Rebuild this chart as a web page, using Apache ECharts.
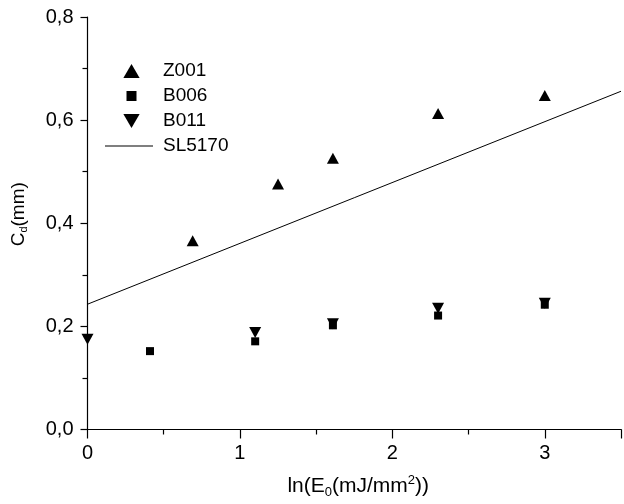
<!DOCTYPE html>
<html>
<head>
<meta charset="utf-8">
<script src="https://cdn.jsdelivr.net/npm/echarts@6/dist/echarts.min.js"></script>
<style>html,body{margin:0;padding:0;background:#fff}#c{width:624px;height:504px}</style>
</head>
<body>
<div id="c"></div>
<script>
var seriesNames = ['Z001', 'B006', 'B011', 'SL5170'];
var z001X = [0.69, 1.25, 1.61, 2.30, 3.00];
var z001Y = [0.366, 0.476, 0.526, 0.613, 0.648];
var b006X = [0.41, 1.10, 1.61, 2.30, 3.00];
var b006Y = [0.152, 0.171, 0.202, 0.221, 0.242];
var b011X = [0.00, 1.10, 1.61, 2.30, 3.00];
var b011Y = [0.175, 0.188, 0.205, 0.235, 0.245];
var slX = [0.0, 3.5];
var slY = [0.243, 0.656];
var xTicks = [0, 1, 2, 3];
var yTicks = [0.0, 0.2, 0.4, 0.6, 0.8];

function pairs(xs, ys) { return xs.map(function (x, i) { return [x, ys[i]]; }); }

var FONT = 'Liberation Sans, Arial, sans-serif';
var ICON_UP = 'path://M5,0L10,8.6L0,8.6Z';
var ICON_DOWN = 'path://M0,0L10,0L5,8.6Z';
var ICON_SQ = 'path://M2,2L12,2L12,12L2,12Z M0,0L0,0 M14,14L14,14';
var ICON_LINE = 'path://M0,0L48,0L48,0.9L0,0.9Z M53,0L53,0';

var chart = echarts.init(document.getElementById('c'), null, { renderer: 'canvas' });
chart.setOption({
  animation: false,
  backgroundColor: '#fff',
  textStyle: { fontFamily: FONT, color: '#000' },
  grid: { left: 87, top: 17, width: 541, height: 413, containLabel: false },
  legend: {
    orient: 'vertical', left: 100, top: 56,
    itemWidth: 53, itemHeight: 14, itemGap: 5,
    symbolKeepAspect: true,
    textStyle: { fontSize: 19, color: '#000', fontFamily: FONT, lineHeight: 20 },
    data: [
      { name: seriesNames[0], icon: ICON_UP },
      { name: seriesNames[1], icon: ICON_SQ },
      { name: seriesNames[2], icon: ICON_DOWN },
      { name: seriesNames[3], icon: ICON_LINE }
    ]
  },
  xAxis: [{
    type: 'value', min: 0, max: 3.5, interval: 1,
    position: 'bottom',
    name: '{a|ln(E}{s|0}{a|(mJ/mm}{p|2}{a|))}',
    nameLocation: 'middle', nameGap: 44,
    nameTextStyle: {
      padding: [0, 0, 0, 8],
      rich: {
        a: { fontSize: 21, fontFamily: FONT, color: '#000', lineHeight: 26 },
        s: { fontSize: 13, fontFamily: FONT, color: '#000', lineHeight: 26, padding: [12, 0, 0, 0] },
        p: { fontSize: 13, fontFamily: FONT, color: '#000', lineHeight: 26, padding: [0, 0, 12, 0] }
      }
    },
    axisLine: { show: true, onZero: false, lineStyle: { color: '#000', width: 1.2 } },
    axisTick: { show: true, inside: false, length: 9, lineStyle: { color: '#000', width: 1.2 } },
    minorTick: { show: true, splitNumber: 2, length: 5, lineStyle: { color: '#000', width: 1.2 } },
    axisLabel: {
      fontSize: 20, color: '#000', margin: 14, fontFamily: FONT,
      formatter: function (v) { return xTicks.indexOf(v) >= 0 ? String(v) : ''; }
    },
    splitLine: { show: false }
  }, {
    type: 'value', min: 0, max: 3.5, position: 'top',
    axisLine: { show: true, lineStyle: { color: '#000', width: 1.2 } },
    axisTick: { show: false }, axisLabel: { show: false }, splitLine: { show: false }
  }],
  yAxis: [{
    type: 'value', min: 0, max: 0.8, interval: 0.2,
    name: '{w| }{a|C}{s|d}{a|(mm)}',
    nameLocation: 'middle', nameGap: 58, nameRotate: 90,
    nameTextStyle: {
      rich: {
        w: { width: 18, fontSize: 19 },
        a: { fontSize: 19, fontFamily: FONT, color: '#000', lineHeight: 22 },
        s: { fontSize: 11, fontFamily: FONT, color: '#000', lineHeight: 22, padding: [10, 0, 0, 0] }
      }
    },
    axisLine: { show: true, onZero: false, lineStyle: { color: '#000', width: 1.2 } },
    axisTick: { show: true, inside: false, length: 7, lineStyle: { color: '#000', width: 1.2 } },
    minorTick: { show: true, splitNumber: 2, length: 5, lineStyle: { color: '#000', width: 1.2 } },
    axisLabel: {
      fontSize: 20, color: '#000', margin: 14, fontFamily: FONT,
      formatter: function (v) {
        var s = v.toFixed(1);
        return yTicks.map(function (t) { return t.toFixed(1); }).indexOf(s) >= 0 ? s.replace('.', ',') : '';
      }
    },
    splitLine: { show: false }
  }],
  series: [
    {
      name: seriesNames[0], type: 'scatter', symbol: 'triangle', symbolSize: [12, 11],
      itemStyle: { color: '#000', opacity: 1 }, data: pairs(z001X, z001Y)
    },
    {
      name: seriesNames[1], type: 'scatter', symbol: 'rect', symbolSize: 8,
      itemStyle: { color: '#000', opacity: 1 }, data: pairs(b006X, b006Y)
    },
    {
      name: seriesNames[2], type: 'scatter', symbol: 'triangle', symbolRotate: 180, symbolSize: [12, 11],
      itemStyle: { color: '#000', opacity: 1 }, data: pairs(b011X, b011Y)
    },
    {
      name: seriesNames[3], type: 'line', symbol: 'none', showSymbol: false,
      lineStyle: { color: '#000', width: 1 }, itemStyle: { color: '#000' },
      data: pairs(slX, slY)
    }
  ]
});
</script>
</body>
</html>
